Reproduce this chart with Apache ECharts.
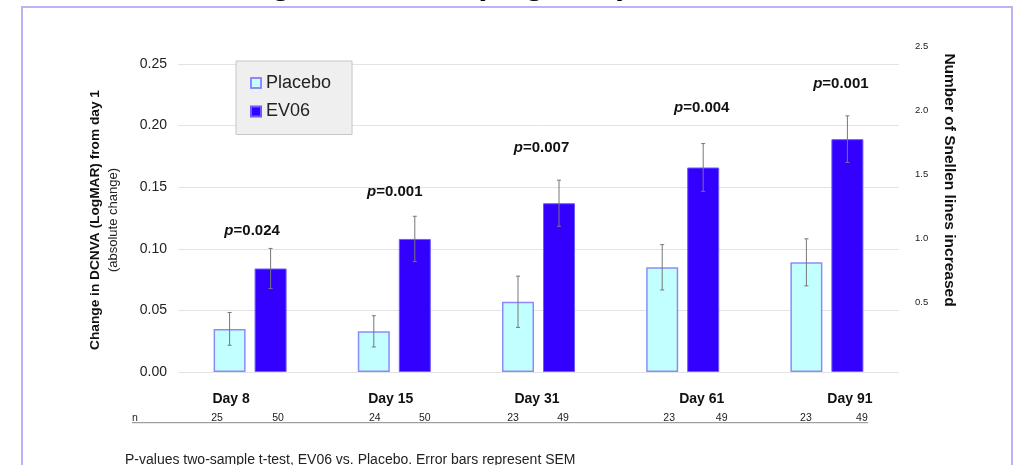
<!DOCTYPE html>
<html><head><meta charset="utf-8">
<script src="https://cdn.jsdelivr.net/npm/echarts@6/dist/echarts.min.js"></script>
<style>html,body{margin:0;padding:0;background:#fff}#c{width:1020px;height:465px}</style>
</head><body><div id="c"></div>
<script>
// ---- data ----
const categories = ['Day 8', 'Day 15', 'Day 31', 'Day 61', 'Day 91'];
const placebo = [0.035, 0.033, 0.057, 0.085, 0.089];
const ev06 = [0.084, 0.108, 0.137, 0.166, 0.189];
const placeboSem = [0.0133, 0.0127, 0.0208, 0.0184, 0.0191];
const ev06Sem = [0.0163, 0.0184, 0.0187, 0.0194, 0.0189];
const pValues = ['0.024', '0.001', '0.007', '0.004', '0.001'];
const pLabelLevel = [0.1144, 0.1461, 0.1816, 0.2145, 0.2338];
const nPlacebo = [25, 24, 23, 23, 23];
const nEv06 = [50, 50, 49, 49, 49];
const rightTicks = [0.5, 1.0, 1.5, 2.0, 2.5];

// ---- layout (pixel offsets of free text boxes) ----
const FONT = '"Liberation Sans", Arial, Helvetica, sans-serif';
const BAR_W = 32, BAR_GAP = 9;
const HALF = (BAR_W + BAR_GAP) / 2;
const dayLabelShift = [-19, -3.5, -1.5, 19, 23];
const pLabelShift = [2, 0.5, 3, 19, 14];
const nShift = [[-33, 28], [-19.5, 30.5], [-25.5, 24.5], [-13.5, 39], [-21, 35]];

const chart = echarts.init(document.getElementById('c'), null, {renderer: 'canvas'});

const dayRich = {};
categories.forEach((c, i) => {
  const o = dayLabelShift[i];
  dayRich['d' + i] = {
    fontSize: 14, fontWeight: 'bold', color: '#111', fontFamily: FONT,
    padding: o >= 0 ? [0, 0, 0, 2 * o] : [0, -2 * o, 0, 0]
  };
});

const errData = [];
categories.forEach((c, i) => {
  errData.push([i, placebo[i] - placeboSem[i], placebo[i] + placeboSem[i], -1]);
  errData.push([i, ev06[i] - ev06Sem[i], ev06[i] + ev06Sem[i], 1]);
});

const pData = categories.map((c, i) => [i, pLabelLevel[i], i]);

const option = {
  animation: false,
  backgroundColor: '#ffffff',
  textStyle: {fontFamily: FONT},
  grid: [
    {left: 178, right: 121, top: 64, bottom: 93},
    {left: 178, right: 121, top: 46, bottom: 98.6}
  ],
  legend: {
    data: ['Placebo', 'EV06'], orient: 'vertical', left: 236, top: 61,
    padding: [13, 21, 14, 14], itemGap: 10.5, itemWidth: 10, itemHeight: 10,
    icon: 'rect', backgroundColor: '#efefef', borderColor: '#c6c6c6', borderWidth: 1,
    selectedMode: false,
    textStyle: {fontSize: 18, color: '#222', fontFamily: FONT}
  },
  xAxis: [
    {type: 'category', gridIndex: 0, data: categories,
     axisLine: {show: false}, axisTick: {show: false},
     axisLabel: {margin: 20, interval: 0, formatter: (v, i) => '{d' + i + '|' + v + '}', rich: dayRich}},
    {type: 'category', gridIndex: 1, data: categories, show: false}
  ],
  yAxis: [
    {type: 'value', gridIndex: 0, min: 0, max: 0.25, interval: 0.05,
     axisLine: {show: false}, axisTick: {show: false},
     axisLabel: {formatter: v => v.toFixed(2), fontSize: 14, color: '#222', margin: 11},
     splitLine: {lineStyle: {color: '#e3e3e3', width: 1}}},
    {type: 'value', gridIndex: 1, position: 'right', min: 0, max: 2.5, interval: 0.5,
     axisLine: {show: false}, axisTick: {show: false}, splitLine: {show: false},
     axisLabel: {formatter: v => rightTicks.includes(v) ? v.toFixed(1) : '', fontSize: 9.5, color: '#222', margin: 16, align: 'left'}}
  ],
  series: [
    {name: 'Placebo', type: 'bar', data: placebo, barWidth: BAR_W, barGap: (BAR_GAP / BAR_W * 100) + '%',
     itemStyle: {color: '#c2ffff', borderColor: '#8d8aff', borderWidth: 1.5}},
    {name: 'EV06', type: 'bar', data: ev06, barWidth: BAR_W,
     itemStyle: {color: '#3300ff', borderColor: '#6a5cff', borderWidth: 1}},
    {type: 'custom', name: 'err', z: 5, data: errData, silent: true,
     renderItem: function (params, api) {
       const cat = api.value(0), lo = api.value(1), hi = api.value(2), side = api.value(3);
       const top = api.coord([cat, hi]);
       const bot = api.coord([cat, lo]);
       const x = top[0] + side * HALF;
       const st = {stroke: '#777', lineWidth: 1};
       return {type: 'group', children: [
         {type: 'line', shape: {x1: x, y1: top[1], x2: x, y2: bot[1]}, style: st},
         {type: 'line', shape: {x1: x - 2, y1: top[1], x2: x + 2, y2: top[1]}, style: st},
         {type: 'line', shape: {x1: x - 2, y1: bot[1], x2: x + 2, y2: bot[1]}, style: st}
       ]};
     }},
    {type: 'custom', name: 'pval', z: 6, data: pData, silent: true,
     renderItem: function (params, api) {
       const i = api.value(2);
       const c = api.coord([api.value(0), api.value(1)]);
       return {type: 'text', x: c[0] + pLabelShift[i], y: c[1],
         style: {text: '{i|p}{b|=' + pValues[i] + '}', align: 'center', verticalAlign: 'middle',
           rich: {
             i: {fontSize: 15, fontWeight: 'bold', fontStyle: 'italic', fill: '#111', fontFamily: FONT},
             b: {fontSize: 15, fontWeight: 'bold', fill: '#111', fontFamily: FONT}
           }}};
     }},
    {type: 'line', xAxisIndex: 1, yAxisIndex: 1, data: [], silent: true}
  ]
};
chart.setOption(option);

// free text, frame and n-row
const g = [];
g.push({type: 'rect', shape: {x: 22, y: 7, width: 990, height: 520}, style: {fill: 'none', stroke: '#bab3f7', lineWidth: 2}, z: 0});
g.push({type: 'text', x: 191, y: -14.5, style: {text: 'Change in DCNVA (LogMAR)', fontSize: 32, fontWeight: 'bold', fill: '#000', fontFamily: FONT, align: 'left', verticalAlign: 'middle'}});
g.push({type: 'text', x: 95, y: 220, rotation: Math.PI / 2,
  style: {text: 'Change in DCNVA (LogMAR) from day 1', fontSize: 13.7, fontWeight: 'bold', fill: '#111', fontFamily: FONT, align: 'center', verticalAlign: 'middle'}});
g.push({type: 'text', x: 113, y: 220, rotation: Math.PI / 2,
  style: {text: '(absolute change)', fontSize: 13, fill: '#222', fontFamily: FONT, align: 'center', verticalAlign: 'middle'}});
g.push({type: 'text', x: 949, y: 180, rotation: -Math.PI / 2,
  style: {text: 'Number of Snellen lines increased', fontSize: 15.5, fontWeight: 'bold', fill: '#111', fontFamily: FONT, align: 'center', verticalAlign: 'middle'}});
g.push({type: 'text', x: 135, y: 418, style: {text: 'n', fontSize: 10.5, fill: '#222', fontFamily: FONT, align: 'center', verticalAlign: 'middle'}});
g.push({type: 'line', shape: {x1: 132, y1: 422.7, x2: 868, y2: 422.7}, style: {stroke: '#888', lineWidth: 1}});
categories.forEach((c, i) => {
  const cx = chart.convertToPixel({xAxisIndex: 0}, i);
  g.push({type: 'text', x: cx + nShift[i][0], y: 418, style: {text: String(nPlacebo[i]), fontSize: 10.5, fill: '#222', fontFamily: FONT, align: 'center', verticalAlign: 'middle'}});
  g.push({type: 'text', x: cx + nShift[i][1], y: 418, style: {text: String(nEv06[i]), fontSize: 10.5, fill: '#222', fontFamily: FONT, align: 'center', verticalAlign: 'middle'}});
});
g.push({type: 'text', x: 125, y: 460, style: {text: 'P-values two-sample t-test, EV06 vs. Placebo. Error bars represent SEM', fontSize: 14, fill: '#222', fontFamily: FONT, align: 'left', verticalAlign: 'middle'}});
chart.setOption({graphic: g});
</script></body></html>
